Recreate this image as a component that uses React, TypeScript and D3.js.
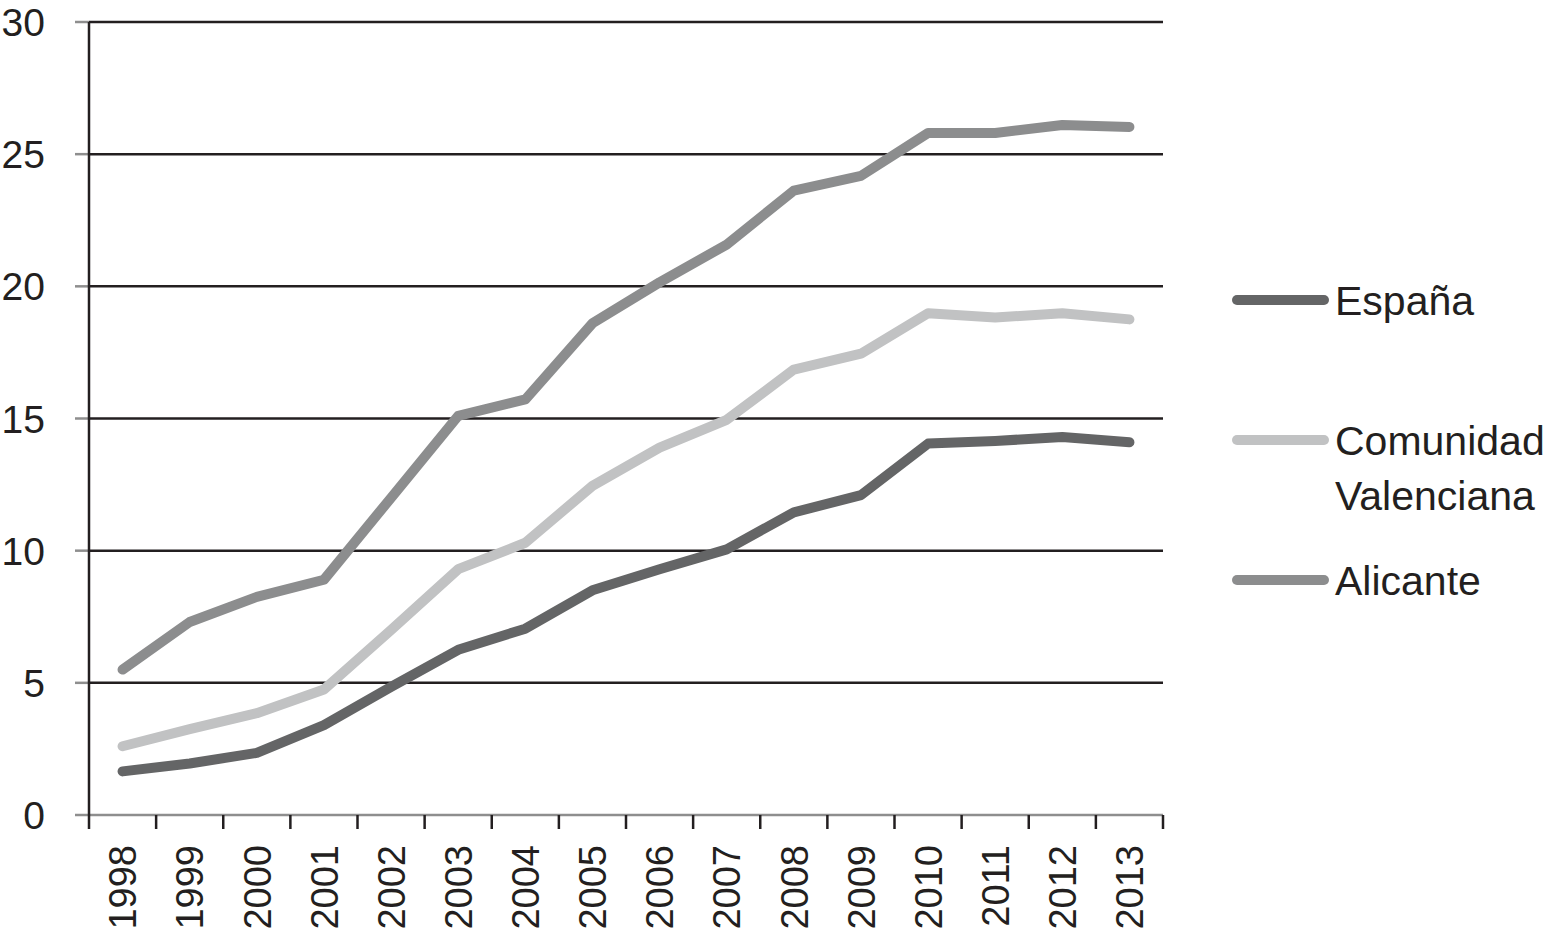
import React from "react";
import * as d3 from "d3";

const years = ["1998","1999","2000","2001","2002","2003","2004","2005","2006","2007","2008","2009","2010","2011","2012","2013"];
const espana = [1.65, 1.95, 2.35, 3.4, 4.85, 6.25, 7.05, 8.5, 9.3, 10.05, 11.45, 12.1, 14.05, 14.15, 14.3, 14.1];
const comunidad = [2.6, 3.25, 3.85, 4.75, 7.0, 9.3, 10.3, 12.45, 13.9, 14.95, 16.85, 17.45, 18.98, 18.82, 18.98, 18.75];
const alicante = [5.5, 7.3, 8.25, 8.9, 12.0, 15.1, 15.72, 18.6, 20.15, 21.58, 23.62, 24.18, 25.8, 25.8, 26.1, 26.03];
const yTicks = [0, 5, 10, 15, 20, 25, 30];

const series = [
  { name: ["España"], values: espana, color: "#646566" },
  { name: ["Comunidad", "Valenciana"], values: comunidad, color: "#c1c2c3" },
  { name: ["Alicante"], values: alicante, color: "#8c8d8e" },
];

export default function App() {
  const W = 1547, H = 937;
  const left = 89, right = 1163, top = 22, bottom = 815;
  const x = d3.scaleBand<string>().domain(years).range([left, right]);
  const y = d3.scaleLinear().domain([0, 30]).range([bottom, top]);
  const line = d3.line<number>()
    .x((_, i) => (x(years[i]) as number) + x.bandwidth() / 2)
    .y((d) => y(d));
  const font = "Liberation Sans, Arial, Helvetica, sans-serif";
  const legendY = [300, 440, 580];
  return (
    <svg width={W} height={H} style={{ position: "absolute", left: 0, top: 0, background: "#fff" }}>
      {yTicks.map((t) => (
        <g key={t}>
          {t > 0 && <line x1={left} x2={right} y1={y(t)} y2={y(t)} stroke="#231f20" strokeWidth={2.5} />}
          <line x1={75} x2={left} y1={y(t)} y2={y(t)} stroke="#8e8e8e" strokeWidth={2.5} />
          <text x={45} y={y(t)} dy="0.36em" textAnchor="end" fontFamily={font} fontSize={39} fill="#231f20">{t}</text>
        </g>
      ))}
      <line x1={left} x2={right} y1={bottom} y2={bottom} stroke="#8e8e8e" strokeWidth={2.5} />
      <line x1={left} x2={left} y1={top} y2={829} stroke="#231f20" strokeWidth={2.5} />
      {years.map((yr) => (
        <line key={"t" + yr} x1={(x(yr) as number) + x.bandwidth()} x2={(x(yr) as number) + x.bandwidth()} y1={bottom} y2={829} stroke="#231f20" strokeWidth={2.5} />
      ))}
      {years.map((yr) => {
        const cx = (x(yr) as number) + x.bandwidth() / 2;
        return (
          <text key={"l" + yr} transform={`translate(${cx},845) rotate(-90)`} dy="0.36em" textAnchor="end" fontFamily={font} fontSize={38} fill="#231f20">{yr}</text>
        );
      })}
      {series.map((s) => (
        <path key={s.name[0]} d={line(s.values) as string} fill="none" stroke={s.color} strokeWidth={10} strokeLinecap="round" strokeLinejoin="round" />
      ))}
      {series.map((s, i) => (
        <g key={"lg" + s.name[0]}>
          <line x1={1237} x2={1324} y1={legendY[i]} y2={legendY[i]} stroke={s.color} strokeWidth={10} strokeLinecap="round" />
          {s.name.map((n, j) => (
            <text key={n} x={1335} y={legendY[i] + j * 55} dy="0.36em" fontFamily={font} fontSize={41} fill="#231f20">{n}</text>
          ))}
        </g>
      ))}
    </svg>
  );
}
